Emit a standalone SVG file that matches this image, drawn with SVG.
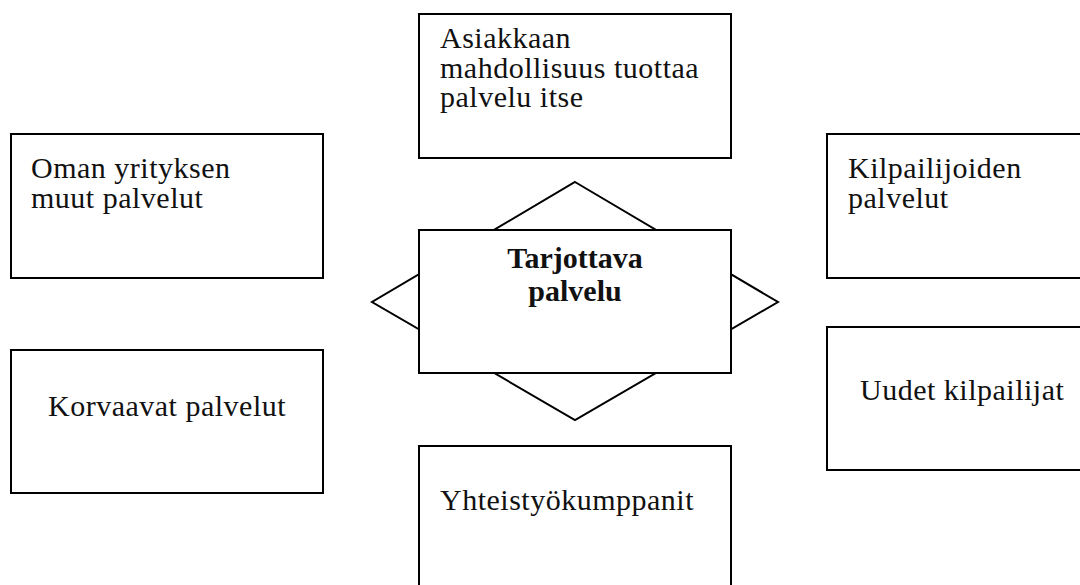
<svg xmlns="http://www.w3.org/2000/svg" width="1080" height="585" viewBox="0 0 1080 585">
  <style>
    .box { fill: #ffffff; stroke: #000000; stroke-width: 2; }
    .lbl { font-family: "Liberation Serif", "Times New Roman", serif; font-size: 30px; letter-spacing: 0.5px; fill: #111111; }
    .bold { font-weight: bold; letter-spacing: 0; }
  </style>
  <rect width="1080" height="585" fill="#ffffff"/>

  <!-- diamond behind the central box -->
  <g id="connectors">
    <polygon class="box" points="575,182 778,302 575,420 372,302"/>
  </g>

  <g id="center">
    <rect class="box" x="419" y="230" width="312" height="143"/>
    <text class="lbl bold" x="575" y="268" text-anchor="middle">Tarjottava</text>
    <text class="lbl bold" x="575" y="301" text-anchor="middle">palvelu</text>
  </g>

  <g id="asiakas">
    <rect class="box" x="419" y="14" width="312" height="144"/>
    <text class="lbl" x="440" y="48">Asiakkaan</text>
    <text class="lbl" x="440" y="77.5">mahdollisuus tuottaa</text>
    <text class="lbl" x="440" y="107">palvelu itse</text>
  </g>

  <g id="oman">
    <rect class="box" x="11" y="134" width="312" height="144"/>
    <text class="lbl" x="31" y="178">Oman yrityksen</text>
    <text class="lbl" x="31" y="208">muut palvelut</text>
  </g>

  <g id="korvaavat">
    <rect class="box" x="11" y="350" width="312" height="143"/>
    <text class="lbl" x="48" y="415.5">Korvaavat palvelut</text>
  </g>

  <g id="kilpailijoiden">
    <rect class="box" x="827" y="134" width="270" height="144"/>
    <text class="lbl" x="848" y="178">Kilpailijoiden</text>
    <text class="lbl" x="848" y="208">palvelut</text>
  </g>

  <g id="uudet">
    <rect class="box" x="827" y="327" width="270" height="143"/>
    <text class="lbl" x="860" y="400">Uudet kilpailijat</text>
  </g>

  <g id="yhteistyo">
    <rect class="box" x="419" y="446" width="312" height="150"/>
    <text class="lbl" x="440" y="510">Yhteistyökumppanit</text>
  </g>
</svg>
